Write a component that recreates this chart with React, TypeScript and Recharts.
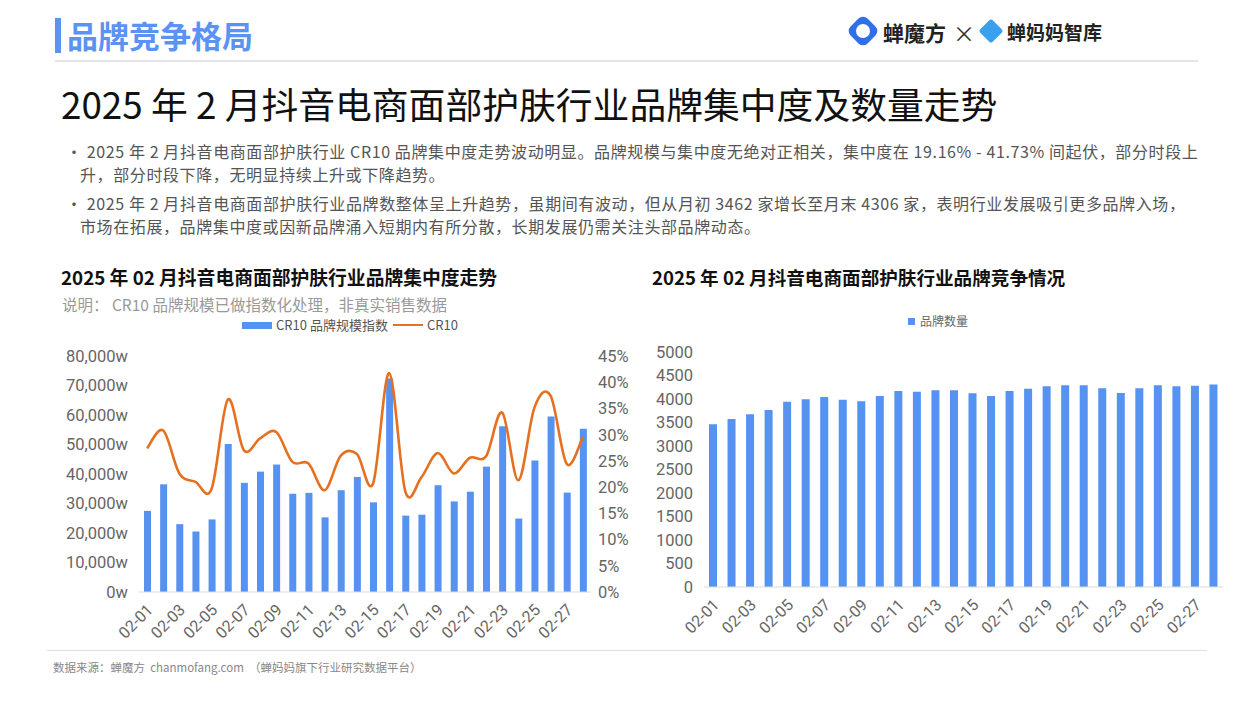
import React from 'react'
import { ComposedChart, BarChart, Bar, Line, XAxis, YAxis } from 'recharts'

const dates = [
  '02-01', '02-02', '02-03', '02-04', '02-05', '02-06', '02-07', '02-08', '02-09', '02-10',
  '02-11', '02-12', '02-13', '02-14', '02-15', '02-16', '02-17', '02-18', '02-19', '02-20',
  '02-21', '02-22', '02-23', '02-24', '02-25', '02-26', '02-27', '02-28',
]
// CR10 品牌规模指数 (w)
const cr10Scale = [
  27500, 36500, 23000, 20500, 24600, 50200, 37000, 40800, 43200, 33300,
  33600, 25300, 34500, 39000, 30400, 72400, 25900, 26200, 36200, 30700,
  34000, 42500, 56200, 24900, 44600, 59500, 33700, 55300,
]
// CR10 (%)
const cr10 = [
  27.4, 30.8, 22.6, 21.0, 19.7, 36.7, 27.0, 29.3, 30.5, 24.8,
  24.5, 19.4, 26.0, 26.3, 20.7, 41.73, 19.16, 21.9, 26.5, 22.6,
  25.6, 25.9, 34.2, 21.3, 35.2, 37.4, 24.4, 29.6,
]
const brandCount = [
  3462, 3574, 3674, 3766, 3943, 3993, 4043, 3986, 3950, 4064,
  4170, 4156, 4184, 4184, 4121, 4064, 4170, 4220, 4270, 4291,
  4291, 4227, 4128, 4227, 4290, 4270, 4284, 4306,
]
const scaleTicks = [0, 10000, 20000, 30000, 40000, 50000, 60000, 70000, 80000]
const pctTicks = [0, 5, 10, 15, 20, 25, 30, 35, 40, 45]
const countTicks = [0, 500, 1000, 1500, 2000, 2500, 3000, 3500, 4000, 4500, 5000]

const leftData = dates.map((d, i) => ({ date: d, scale: cr10Scale[i], cr10: cr10[i] }))
const rightData = dates.map((d, i) => ({ date: d, count: brandCount[i] }))

const BLUE = '#5592f2'
const ORANGE = '#e5701f'
const CJK = '"Noto Sans CJK SC", "Noto Sans", sans-serif'
const NUM = 'Roboto, "Noto Sans CJK SC", sans-serif'

// Excel 风格平滑曲线 (catmull-rom)
function smoothCurve(context: any) {
  let pts: number[][] = []
  return {
    areaStart() {},
    areaEnd() {},
    lineStart() { pts = [] },
    point(x: number, y: number) { pts.push([+x, +y]) },
    lineEnd() {
      if (!pts.length) return
      context.moveTo(pts[0][0], pts[0][1])
      for (let i = 0; i < pts.length - 1; i++) {
        const p0 = pts[i - 1] || pts[i]
        const p1 = pts[i]
        const p2 = pts[i + 1]
        const p3 = pts[i + 2] || p2
        const t = 1 / 6
        context.bezierCurveTo(
          p1[0] + (p2[0] - p0[0]) * t, p1[1] + (p2[1] - p0[1]) * t,
          p2[0] - (p3[0] - p1[0]) * t, p2[1] - (p3[1] - p1[1]) * t,
          p2[0], p2[1],
        )
      }
    },
  }
}

function DateTick({ x, y, payload }: any) {
  return (
    <text x={x + 4} y={y + 8} transform={`rotate(-45 ${x + 4} ${y + 8})`} textAnchor="end"
      fontSize={16} fill="#666" fontFamily={NUM} dy={4}>
      {payload.value}
    </text>
  )
}

const tickStyle = { fontSize: 16.5, fill: '#666', fontFamily: NUM }

export default function App() {
  return (
    <div style={{ position: 'absolute', left: 0, top: 0, width: 1251, height: 702, background: '#fff', fontFamily: CJK, overflow: 'hidden' }}>
      {/* header */}
      <div style={{ position: 'absolute', left: 55, top: 18, width: 6, height: 35, background: '#5b93f5' }} />
      <div style={{ position: 'absolute', left: 67, top: 14, fontSize: 31, fontWeight: 700, color: '#5b93f5', lineHeight: '42px' }}>品牌竞争格局</div>
      <div style={{ position: 'absolute', left: 848, top: 16, width: 30, height: 30, borderRadius: 8, background: '#2f6fe8', transform: 'rotate(45deg) scale(0.8)' }} />
      <div style={{ position: 'absolute', left: 856, top: 24, width: 14, height: 14, borderRadius: 7, background: '#fff' }} />
      <div style={{ position: 'absolute', left: 883, top: 15, fontSize: 21, fontWeight: 700, color: '#222', lineHeight: '34px' }}>蝉魔方</div>
      <div style={{ position: 'absolute', left: 953, top: 15, fontSize: 22, color: '#333', lineHeight: '34px' }}>×</div>
      <div style={{ position: 'absolute', left: 980, top: 20, width: 22, height: 22, background: '#3aa0ee', transform: 'rotate(45deg) scale(0.8)', borderRadius: 3 }} />
      <div style={{ position: 'absolute', left: 1007, top: 17, fontSize: 19, fontWeight: 700, color: '#222', lineHeight: '30px' }}>蝉妈妈智库</div>
      <div style={{ position: 'absolute', left: 55, top: 60, width: 1143, height: 2, background: '#e3e5ea' }} />

      <div style={{ position: 'absolute', left: 61, top: 77, fontSize: 36.8, color: '#111', lineHeight: '52px', whiteSpace: 'nowrap' }}>
        2025 年 2 月抖音电商面部护肤行业品牌集中度及数量走势
      </div>

      <div style={{ position: 'absolute', left: 66, top: 140, width: 1150, fontSize: 16, letterSpacing: 0.6, color: '#555', lineHeight: '23px', whiteSpace: 'nowrap' }}>
        <div>•&nbsp;2025 年 2 月抖音电商面部护肤行业 CR10 品牌集中度走势波动明显。品牌规模与集中度无绝对正相关，集中度在 19.16% - 41.73% 间起伏，部分时段上</div>
        <div style={{ paddingLeft: 14 }}>升，部分时段下降，无明显持续上升或下降趋势。</div>
        <div style={{ marginTop: 6 }}>•&nbsp;2025 年 2 月抖音电商面部护肤行业品牌数整体呈上升趋势，虽期间有波动，但从月初 3462 家增长至月末 4306 家，表明行业发展吸引更多品牌入场，</div>
        <div style={{ paddingLeft: 14 }}>市场在拓展，品牌集中度或因新品牌涌入短期内有所分散，长期发展仍需关注头部品牌动态。</div>
      </div>

      {/* left chart */}
      <div style={{ position: 'absolute', left: 61, top: 263, fontSize: 18.8, fontWeight: 700, color: '#111', lineHeight: '28px', whiteSpace: 'nowrap' }}>
        2025 年 02 月抖音电商面部护肤行业品牌集中度走势
      </div>
      <div style={{ position: 'absolute', left: 62, top: 293, fontSize: 15.5, color: '#999', lineHeight: '22px', whiteSpace: 'nowrap' }}>
        说明：&nbsp;CR10 品牌规模已做指数化处理，非真实销售数据
      </div>
      <div style={{ position: 'absolute', left: 242, top: 316, display: 'flex', alignItems: 'center', fontSize: 13, color: '#555', lineHeight: '18px', whiteSpace: 'nowrap' }}>
        <span style={{ display: 'inline-block', width: 30, height: 7, background: BLUE, marginRight: 4 }} />
        <span>CR10 品牌规模指数</span>
        <span style={{ display: 'inline-block', width: 30, height: 2, background: ORANGE, margin: '0 4px 0 5px' }} />
        <span>CR10</span>
      </div>

      <div style={{ position: 'absolute', left: 40, top: 340 }}>
        <ComposedChart width={610} height={310} data={leftData} margin={{ top: 16, right: 9, left: 0, bottom: 3 }}>
          <XAxis dataKey="date" interval={1} tick={<DateTick />} tickLine={false} axisLine={{ stroke: '#dcdcdc' }} height={55} />
          <YAxis yAxisId="l" width={99} domain={[0, 80000]} ticks={scaleTicks} interval={0} tick={tickStyle}
            tickFormatter={(v: number) => `${v.toLocaleString('en-US')}w`} axisLine={false} tickLine={false} tickMargin={5} />
          <YAxis yAxisId="r" orientation="right" width={50} domain={[0, 45]} ticks={pctTicks} interval={0} tick={tickStyle}
            tickFormatter={(v: number) => `${v}%`} axisLine={false} tickLine={false} tickMargin={1} />
          <Bar yAxisId="l" dataKey="scale" fill={BLUE} barSize={7} isAnimationActive={false} />
          <Line yAxisId="r" dataKey="cr10" type={smoothCurve as any} stroke={ORANGE} strokeWidth={2.6} dot={false} isAnimationActive={false} />
        </ComposedChart>
      </div>

      {/* right chart */}
      <div style={{ position: 'absolute', left: 652, top: 263, fontSize: 18.6, fontWeight: 700, color: '#111', lineHeight: '28px', whiteSpace: 'nowrap' }}>
        2025 年 02 月抖音电商面部护肤行业品牌竞争情况
      </div>
      <div style={{ position: 'absolute', left: 908, top: 312, display: 'flex', alignItems: 'center', fontSize: 12, color: '#666', lineHeight: '18px', whiteSpace: 'nowrap' }}>
        <span style={{ display: 'inline-block', width: 7, height: 7, background: BLUE, marginRight: 5 }} />
        <span>品牌数量</span>
      </div>
      <div style={{ position: 'absolute', left: 640, top: 300 }}>
        <BarChart width={600} height={350} data={rightData} margin={{ top: 52, right: 17, left: 0, bottom: 3 }}>
          <XAxis dataKey="date" interval={1} tick={<DateTick />} tickLine={false} axisLine={{ stroke: '#dcdcdc' }} height={60} />
          <YAxis width={64} domain={[0, 5000]} ticks={countTicks} interval={0} tick={tickStyle} axisLine={false} tickLine={false} tickMargin={5} />
          <Bar dataKey="count" fill={BLUE} barSize={8} isAnimationActive={false} />
        </BarChart>
      </div>

      {/* footer */}
      <div style={{ position: 'absolute', left: 47, top: 650, width: 1160, height: 1, background: '#dcdfe6' }} />
      <div style={{ position: 'absolute', left: 53, top: 658, fontSize: 11.5, color: '#888', lineHeight: '18px', whiteSpace: 'nowrap' }}>
        数据来源：蝉魔方&nbsp; chanmofang.com&nbsp;&nbsp;（蝉妈妈旗下行业研究数据平台）
      </div>
    </div>
  )
}
